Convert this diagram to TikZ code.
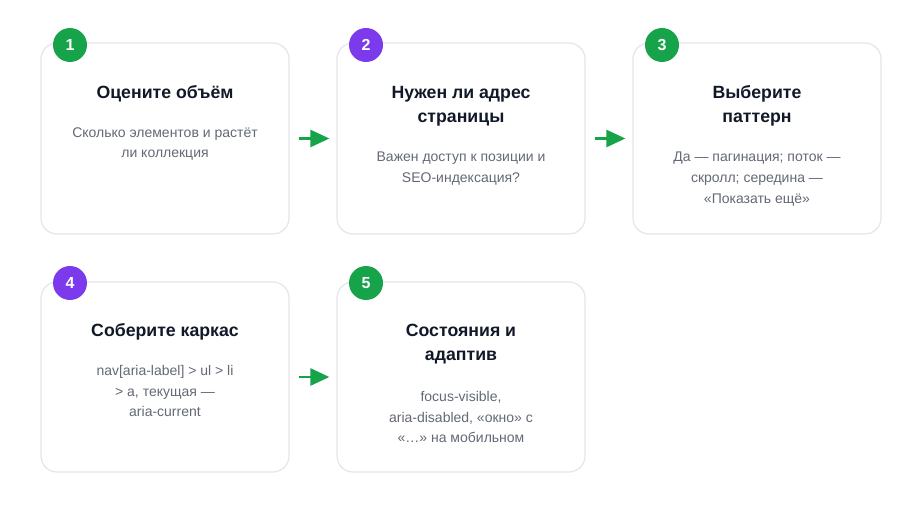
\documentclass[tikz,border=0pt]{standalone}
\usepackage{fontspec}
\setmainfont{Liberation Sans}
\usetikzlibrary{arrows.meta,backgrounds}
\definecolor{cgreen}{HTML}{16A34A}
\definecolor{cpurple}{HTML}{7C3AED}
\definecolor{ctitle}{HTML}{111827}
\definecolor{cbody}{HTML}{636975}
\definecolor{cborder}{HTML}{E5E6EC}
\tikzset{
  card/.style={draw=cborder, line width=1.2pt, fill=white, rounded corners=16pt,
    minimum width=248pt, minimum height=191pt, inner sep=0pt},
  badge/.style={circle, minimum size=34pt, inner sep=0pt, text=white,
    font=\bfseries\fontsize{16}{18}\selectfont},
  ttl/.style={align=center, text=ctitle, font=\bfseries\fontsize{17.7}{24}\selectfont, inner sep=0pt},
  bdy/.style={align=center, text=cbody, font=\fontsize{14}{20.7}\selectfont, inner sep=0pt},
  flow/.style={draw=cgreen, line width=2.6pt, -{Triangle[length=19pt,width=17pt]}},
  shade layer/.style={fill=black, fill opacity=0.018, rounded corners=18pt}
}
\newcommand{\cardshadow}[1]{%
  \foreach \e in {1,2,...,10}{%
    \fill[shade layer] ([xshift=-\e*0.9pt, yshift=-\e*0.9pt+4pt]#1.north west) rectangle ([xshift=\e*0.9pt, yshift=\e*-0.9pt-4pt]#1.south east);
  }}
\begin{document}
\begin{tikzpicture}[x=1pt,y=-1pt]
\useasboundingbox[fill=white] (0,0) rectangle (922,516);
% cards
\node[card] (c1) at (165,138.5) {};
\node[card] (c2) at (461,138.5) {};
\node[card] (c3) at (757,138.5) {};
\node[card, minimum height=190pt] (c4) at (165,377) {};
\node[card, minimum height=190pt] (c5) at (461,377) {};
\begin{scope}[on background layer]
\fill[white] (0,0) rectangle (922,516);
\cardshadow{c1}\cardshadow{c2}\cardshadow{c3}\cardshadow{c4}\cardshadow{c5}
\end{scope}
% badges
\node[badge, fill=cgreen] (b1) at (70,45) {1};
\node[badge, fill=cpurple] (b2) at (366,45) {2};
\node[badge, fill=cgreen] (b3) at (662,45) {3};
\node[badge, fill=cpurple] (b4) at (70,283) {4};
\node[badge, fill=cgreen] (b5) at (366,283) {5};
% titles
\node[ttl] (t1) at (165,94) {Оцените объём};
\node[ttl] (t2) at (461,106) {Нужен ли адрес\\страницы};
\node[ttl] (t3) at (757,106) {Выберите\\паттерн};
\node[ttl] (t4) at (165,332) {Соберите каркас};
\node[ttl] (t5) at (461,344) {Состояния и\\адаптив};
% bodies
\node[bdy] (d1) at (165,144) {Сколько элементов и растёт\\ли коллекция};
\node[bdy] (d2) at (461,168.5) {Важен доступ к позиции и\\SEO-индексация?};
\node[bdy] (d3) at (757,179) {Да — пагинация; поток —\\скролл; середина —\\«Показать ещё»};
\node[bdy] (d4) at (165,391) {nav[aria-label] > ul > li\\> a, текущая —\\aria-current};
\node[bdy] (d5) at (461,417) {focus-visible,\\aria-disabled, «окно» с\\«…» на мобильном};
% arrows
\draw[flow, shorten <=9pt, shorten >=7pt] (c1.east) -- (c2.west);
\draw[flow, shorten <=9pt, shorten >=7pt] (c2.east) -- (c3.west);
\draw[flow, shorten <=9pt, shorten >=7pt] (c4.east) -- (c5.west);
\end{tikzpicture}
\end{document}
